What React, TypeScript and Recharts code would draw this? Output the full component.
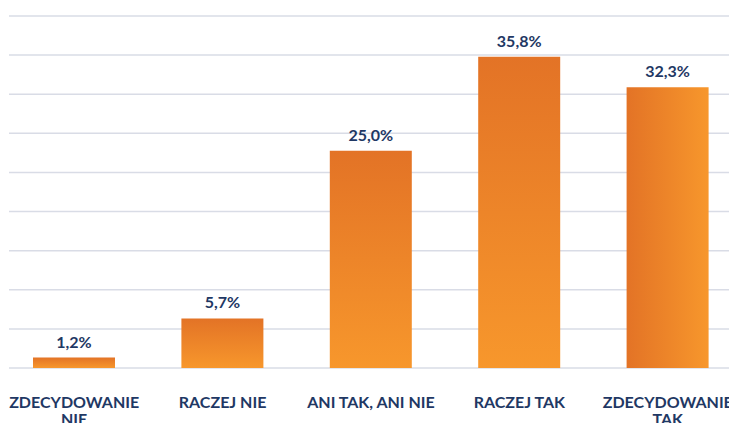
import React from "react";
import { BarChart, Bar, XAxis, YAxis, CartesianGrid, Cell, LabelList, Text } from "recharts";

const categories = ["ZDECYDOWANIE NIE", "RACZEJ NIE", "ANI TAK, ANI NIE", "RACZEJ TAK", "ZDECYDOWANIE TAK"];
const values = [1.2, 5.7, 25.0, 35.8, 32.3];
const valueLabels = ["1,2%", "5,7%", "25,0%", "35,8%", "32,3%"];
const yTicks = [0, 4.5, 9, 13.5, 18, 22.5, 27, 31.5, 36, 40.5];

const data = categories.map((c, i) => ({ name: c, value: values[i], label: valueLabels[i] }));

const NAVY = "#1F3864";
const FONT = "Lato, 'Open Sans', sans-serif";

const Tick = (props: any) => {
  const { x, y, payload } = props;
  return (
    <Text
      x={x}
      y={y}
      width={140}
      textAnchor="middle"
      verticalAnchor="start"
      lineHeight={17}
      fill={NAVY}
      fontSize={16}
      fontWeight={700}
      fontFamily={FONT}
    >
      {payload.value}
    </Text>
  );
};

export default function App() {
  return (
    <div style={{ position: "absolute", left: 0, top: 0, width: 729, height: 423, overflow: "hidden", background: "#fff" }}>
      <BarChart width={742} height={423} data={data} margin={{ top: 16, right: 0, bottom: 0, left: 0 }} barSize={82}>
        <defs>
          <linearGradient id="gv" x1="0" y1="0" x2="0" y2="1">
            <stop offset="0%" stopColor="#E37326" />
            <stop offset="100%" stopColor="#F7972C" />
          </linearGradient>
          <linearGradient id="gh" x1="0" y1="0" x2="1" y2="0">
            <stop offset="0%" stopColor="#E37326" />
            <stop offset="100%" stopColor="#F7972C" />
          </linearGradient>
        </defs>
        <CartesianGrid vertical={false} stroke="#D9DCE6" strokeWidth={1.5} x={9} width={733} />
        <YAxis hide domain={[0, 40.5]} ticks={yTicks} />
        <XAxis
          dataKey="name"
          axisLine={false}
          tickLine={false}
          tickSize={0}
          tickMargin={29}
          height={55}
          interval={0}
          tick={<Tick />}
        />
        <Bar dataKey="value" isAnimationActive={false}>
          {data.map((d, i) => (
            <Cell key={d.name} fill={i === 4 ? "url(#gh)" : "url(#gv)"} />
          ))}
          <LabelList
            dataKey="label"
            position="top"
            offset={10}
            fill={NAVY}
            fontSize={16}
            fontWeight={700}
            fontFamily={FONT}
          />
        </Bar>
      </BarChart>
    </div>
  );
}
